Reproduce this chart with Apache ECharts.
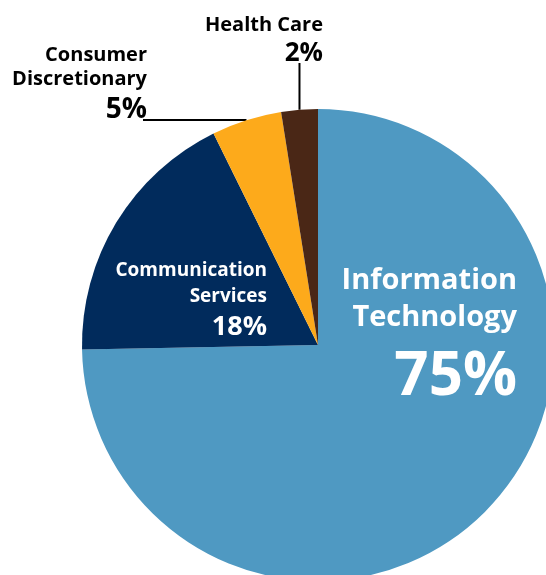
<!DOCTYPE html>
<html>
<head>
<meta charset="utf-8">
<script src="https://cdn.jsdelivr.net/npm/echarts@6/dist/echarts.min.js"></script>
<style>
html, body { margin: 0; padding: 0; background: #fff; }
#main { width: 546px; height: 575px; }
</style>
</head>
<body>
<div id="main"></div>
<script>
// sector names as printed (with line breaks) and their shares
var sectors = ['Information\nTechnology', 'Communication\nServices', 'Consumer\nDiscretionary', 'Health Care'];
var shares = [74.7, 18.0, 4.8, 2.5];
var shareLabels = ['75%', '18%', '5%', '2%'];

var colors = ['#4f99c2', '#012b5c', '#fdaa1b', '#4a2716'];
var font = '"Open Sans", Roboto, sans-serif';

// label placement: [x, y(top), name size, name line height, pct size, pct line height, text color]
var place = [
  [517, 262, 29, 37, 60, 83, '#fff'],
  [267, 257, 19, 26.5, 27, 35.5, '#fff'],
  [147, 43, 20, 24, 28, 39, '#000'],
  [323, 13, 20, 24, 26, 34, '#000']
];

var data = sectors.map(function (name, i) {
  var p = place[i];
  return {
    name: name,
    value: shares[i],
    itemStyle: { color: colors[i] },
    labelLine: { show: i >= 2 },
    label: {
      position: i >= 2 ? 'outside' : 'inside',
      formatter: function () {
        var lines = name.split('\n').map(function (s) { return '{n|' + s + '}'; });
        return lines.join('\n') + '\n{p|' + shareLabels[i] + '}';
      },
      rich: {
        n: { fontFamily: font, fontWeight: 'bold', fontSize: p[2], lineHeight: p[3], color: p[6], align: 'right' },
        p: { fontFamily: font, fontWeight: 'bold', fontSize: p[4], lineHeight: p[5], color: p[6], align: 'right' }
      }
    }
  };
});

var myChart = echarts.init(document.getElementById('main'));
myChart.setOption({
  animation: false,
  backgroundColor: '#fff',
  series: [{
    type: 'pie',
    center: [318, 345],
    radius: 236,
    startAngle: 90,
    clockwise: true,
    avoidLabelOverlap: false,
    emphasis: { disabled: true },
    labelLine: { lineStyle: { color: '#000', width: 2 }, length: 20, length2: 10 },
    data: data,
    labelLayout: function (params) {
      var i = params.dataIndex;
      var p = place[i];
      var res = { x: p[0], y: p[1], align: 'right', verticalAlign: 'top' };
      var a = params.labelLinePoints && params.labelLinePoints[0];
      if (a && i === 3) {
        // vertical leader up to the bottom of the percentage
        var endY = p[1] + p[3] + p[5] / 2 + 9;
        res.labelLinePoints = [a, [a[0], (a[1] + endY) / 2], [a[0], endY]];
      } else if (a && i === 2) {
        // horizontal leader back to the percentage
        var endX = p[0] - 4;
        res.labelLinePoints = [a, [(a[0] + endX) / 2, a[1]], [endX, a[1]]];
      }
      return res;
    }
  }]
});
</script>
</body>
</html>
